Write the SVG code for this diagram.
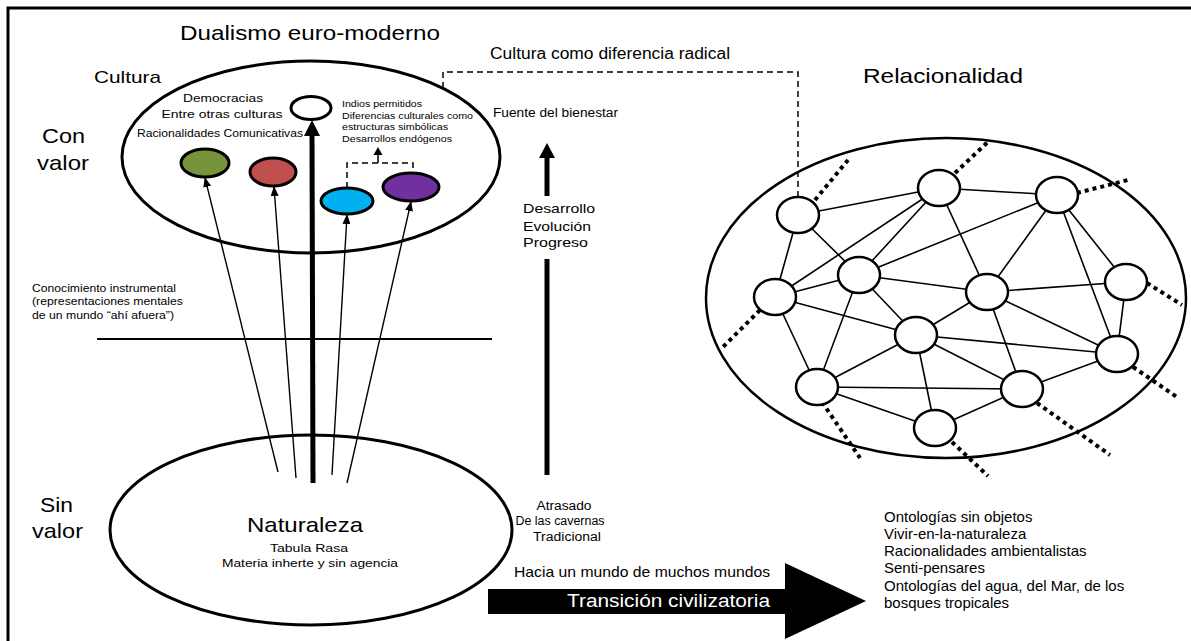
<svg xmlns="http://www.w3.org/2000/svg" width="1191" height="641" viewBox="0 0 1191 641">
<style>
text{font-family:"Liberation Sans",Arial,sans-serif;fill:#000}
.el{fill:none;stroke:#000;stroke-width:3}
.nd{fill:#fff;stroke:#000;stroke-width:2.5}
.ed{stroke:#000;stroke-width:1.6;fill:none}
.dot{stroke:#000;stroke-width:4;stroke-dasharray:4 4;fill:none}
.thin{stroke:#000;stroke-width:1.4;fill:none}
.dash{stroke:#000;stroke-width:1.5;stroke-dasharray:6 4;fill:none}
.c{text-anchor:middle}
</style>
<defs>
<marker id="ah" markerWidth="10" markerHeight="8" refX="9" refY="4" orient="auto" markerUnits="userSpaceOnUse"><path d="M0,0 L10,4 L0,8 z" fill="#000"/></marker>
</defs>
<rect x="8" y="8" width="1190" height="640" fill="none" stroke="#000" stroke-width="3"/>

<g id="titles">
<text x="180" y="40" font-size="21" textLength="260" lengthAdjust="spacingAndGlyphs">Dualismo euro-moderno</text>
<text x="490" y="59" font-size="16" textLength="240" lengthAdjust="spacingAndGlyphs">Cultura como diferencia radical</text>
<text x="863" y="83" font-size="21" textLength="160" lengthAdjust="spacingAndGlyphs">Relacionalidad</text>
<text x="94" y="83" font-size="17" textLength="67" lengthAdjust="spacingAndGlyphs">Cultura</text>
<text x="42" y="143" font-size="21" textLength="43" lengthAdjust="spacingAndGlyphs">Con</text>
<text x="37" y="170" font-size="21" textLength="52" lengthAdjust="spacingAndGlyphs">valor</text>
<text x="40" y="512" font-size="21" textLength="33" lengthAdjust="spacingAndGlyphs">Sin</text>
<text x="32" y="538" font-size="21" textLength="51" lengthAdjust="spacingAndGlyphs">valor</text>
<text x="32" y="292" font-size="11" textLength="144" lengthAdjust="spacingAndGlyphs">Conocimiento instrumental</text>
<text x="32" y="305" font-size="11" textLength="151" lengthAdjust="spacingAndGlyphs">(representaciones mentales</text>
<text x="32" y="319" font-size="11" textLength="142" lengthAdjust="spacingAndGlyphs">de un mundo “ahí afuera”)</text>
</g>

<g id="cultura">
<ellipse class="el" cx="311" cy="157" rx="189" ry="96"/>
<text x="223" y="102" font-size="11.5" class="c" textLength="80" lengthAdjust="spacingAndGlyphs">Democracias</text>
<text x="222" y="118" font-size="11.5" class="c" textLength="121" lengthAdjust="spacingAndGlyphs">Entre otras culturas</text>
<text x="137" y="137" font-size="11.5" textLength="166" lengthAdjust="spacingAndGlyphs">Racionalidades Comunicativas</text>
<text x="342" y="107" font-size="9.5" textLength="80" lengthAdjust="spacingAndGlyphs">Indios permitidos</text>
<text x="342" y="118.5" font-size="9.5" textLength="131" lengthAdjust="spacingAndGlyphs">Diferencias culturales como</text>
<text x="342" y="130" font-size="9.5" textLength="106" lengthAdjust="spacingAndGlyphs">estructuras simbólicas</text>
<text x="342" y="142" font-size="9.5" textLength="110" lengthAdjust="spacingAndGlyphs">Desarrollos endógenos</text>
</g>
<g id="n-white"><ellipse cx="311" cy="108" rx="20" ry="11.5" fill="#fff" stroke="#000" stroke-width="3"/></g>
<g id="n-green"><ellipse cx="205" cy="163" rx="24" ry="14" fill="#77933C" stroke="#000" stroke-width="3"/></g>
<g id="n-red"><ellipse cx="273" cy="172" rx="23" ry="14" fill="#C0504D" stroke="#000" stroke-width="3"/></g>
<g id="n-cyan"><ellipse cx="347" cy="201" rx="26" ry="13" fill="#00B0F0" stroke="#000" stroke-width="3"/></g>
<g id="n-purple"><ellipse cx="411" cy="187" rx="28" ry="14" fill="#7030A0" stroke="#000" stroke-width="3"/></g>

<g id="naturaleza">
<ellipse class="el" cx="311" cy="530" rx="201" ry="95"/>
<text x="305" y="532" font-size="21" class="c" textLength="116" lengthAdjust="spacingAndGlyphs">Naturaleza</text>
<text x="309" y="552" font-size="11.5" class="c" textLength="78" lengthAdjust="spacingAndGlyphs">Tabula Rasa</text>
<text x="310" y="567" font-size="11.5" class="c" textLength="176" lengthAdjust="spacingAndGlyphs">Materia inherte y sin agencia</text>
</g>

<g id="progreso">
<text x="493" y="117" font-size="12" textLength="125" lengthAdjust="spacingAndGlyphs">Fuente del bienestar</text>
<text x="523" y="213" font-size="13" textLength="72" lengthAdjust="spacingAndGlyphs">Desarrollo</text>
<text x="523" y="231" font-size="13" textLength="68" lengthAdjust="spacingAndGlyphs">Evolución</text>
<text x="523" y="247" font-size="13" textLength="65" lengthAdjust="spacingAndGlyphs">Progreso</text>
<text x="564" y="510" font-size="12.5" class="c" textLength="55" lengthAdjust="spacingAndGlyphs">Atrasado</text>
<text x="560" y="525" font-size="12.5" class="c" textLength="89" lengthAdjust="spacingAndGlyphs">De las cavernas</text>
<text x="567" y="541" font-size="12.5" class="c" textLength="68" lengthAdjust="spacingAndGlyphs">Tradicional</text>
</g>

<g id="transicion">
<polygon points="488,589 785,589 785,563 866,601 785,639 785,614 488,614" fill="#000"/>
<text x="514" y="577" font-size="15" textLength="256" lengthAdjust="spacingAndGlyphs">Hacia un mundo de muchos mundos</text>
<text x="567" y="607" font-size="18" textLength="203" lengthAdjust="spacingAndGlyphs" style="fill:#fff">Transición civilizatoria</text>
</g>

<g id="lista" font-size="15">
<text x="884" y="522">Ontologías sin objetos</text>
<text x="884" y="539">Vivir-en-la-naturaleza</text>
<text x="884" y="556">Racionalidades ambientalistas</text>
<text x="884" y="573">Senti-pensares</text>
<text x="884" y="591">Ontologías del agua, del Mar, de los</text>
<text x="884" y="608">bosques tropicales</text>
</g>

<g id="connectors">
<line x1="97" y1="339" x2="492" y2="339" stroke="#000" stroke-width="2"/>
<line class="thin" x1="278" y1="472" x2="205" y2="178" marker-end="url(#ah)"/>
<line class="thin" x1="296" y1="478" x2="274" y2="187" marker-end="url(#ah)"/>
<line class="thin" x1="332" y1="475" x2="347" y2="215" marker-end="url(#ah)"/>
<line class="thin" x1="347" y1="483" x2="411" y2="202" marker-end="url(#ah)"/>
<line x1="313" y1="483" x2="312" y2="134" stroke="#000" stroke-width="5"/>
<polygon points="304,136 312,120 320,136" fill="#000"/>
<path class="dash" d="M347,188 V163 H413 V173"/>
<line x1="378" y1="163" x2="378" y2="153" stroke="#000" stroke-width="1.5"/>
<polygon points="373.5,155 378,147 382.5,155" fill="#000"/>
<line x1="547" y1="196" x2="547" y2="156" stroke="#000" stroke-width="5"/>
<polygon points="539,158 547,143 555,158" fill="#000"/>
<line x1="547" y1="259" x2="547" y2="475" stroke="#000" stroke-width="5"/>
<path class="dash" d="M443,88 V72 H798 V197"/>
</g>

<g id="red">
<ellipse cx="946" cy="298" rx="240" ry="160" fill="none" stroke="#000" stroke-width="2.5"/>
<g id="edges">
<line class="ed" x1="798" y1="215" x2="939" y2="188"/>
<line class="ed" x1="939" y1="188" x2="1057" y2="195"/>
<line class="ed" x1="798" y1="215" x2="775" y2="297"/>
<line class="ed" x1="798" y1="215" x2="859" y2="275"/>
<line class="ed" x1="859" y1="275" x2="916" y2="335"/>
<line class="ed" x1="939" y1="188" x2="775" y2="297"/>
<line class="ed" x1="939" y1="188" x2="859" y2="275"/>
<line class="ed" x1="939" y1="188" x2="987" y2="292"/>
<line class="ed" x1="1057" y1="195" x2="859" y2="275"/>
<line class="ed" x1="1057" y1="195" x2="987" y2="292"/>
<line class="ed" x1="1057" y1="195" x2="1126" y2="282"/>
<line class="ed" x1="1057" y1="195" x2="1117" y2="354"/>
<line class="ed" x1="775" y1="297" x2="859" y2="275"/>
<line class="ed" x1="859" y1="275" x2="987" y2="292"/>
<line class="ed" x1="775" y1="297" x2="916" y2="335"/>
<line class="ed" x1="775" y1="297" x2="817" y2="387"/>
<line class="ed" x1="859" y1="275" x2="817" y2="387"/>
<line class="ed" x1="987" y1="292" x2="916" y2="335"/>
<line class="ed" x1="987" y1="292" x2="1126" y2="282"/>
<line class="ed" x1="987" y1="292" x2="1117" y2="354"/>
<line class="ed" x1="987" y1="292" x2="1022" y2="389"/>
<line class="ed" x1="1126" y1="282" x2="1117" y2="354"/>
<line class="ed" x1="916" y1="335" x2="1117" y2="354"/>
<line class="ed" x1="916" y1="335" x2="817" y2="387"/>
<line class="ed" x1="916" y1="335" x2="1022" y2="389"/>
<line class="ed" x1="916" y1="335" x2="935" y2="428"/>
<line class="ed" x1="817" y1="387" x2="1022" y2="389"/>
<line class="ed" x1="817" y1="387" x2="935" y2="428"/>
<line class="ed" x1="1022" y1="389" x2="935" y2="428"/>
<line class="ed" x1="1022" y1="389" x2="1117" y2="354"/>
</g>
<g id="dotted">
<line class="dot" x1="815" y1="200" x2="848" y2="160"/>
<line class="dot" x1="955" y1="173" x2="990" y2="140"/>
<line class="dot" x1="1077" y1="193" x2="1128" y2="180"/>
<line class="dot" x1="1147" y1="283" x2="1182" y2="305"/>
<line class="dot" x1="1133" y1="367" x2="1177" y2="397"/>
<line class="dot" x1="1037" y1="403" x2="1110" y2="455"/>
<line class="dot" x1="952" y1="442" x2="988" y2="476"/>
<line class="dot" x1="822" y1="402" x2="860" y2="458"/>
<line class="dot" x1="760" y1="310" x2="723" y2="347"/>
</g>
<g id="n1"><ellipse class="nd" cx="798" cy="215" rx="21" ry="18"/></g>
<g id="n2"><ellipse class="nd" cx="939" cy="188" rx="21" ry="18"/></g>
<g id="n3"><ellipse class="nd" cx="1057" cy="195" rx="21" ry="18"/></g>
<g id="n4"><ellipse class="nd" cx="859" cy="275" rx="21" ry="18"/></g>
<g id="n5"><ellipse class="nd" cx="775" cy="297" rx="21" ry="18"/></g>
<g id="n6"><ellipse class="nd" cx="987" cy="292" rx="21" ry="18"/></g>
<g id="n7"><ellipse class="nd" cx="1126" cy="282" rx="21" ry="18"/></g>
<g id="n8"><ellipse class="nd" cx="916" cy="335" rx="21" ry="18"/></g>
<g id="n9"><ellipse class="nd" cx="1117" cy="354" rx="21" ry="18"/></g>
<g id="n10"><ellipse class="nd" cx="817" cy="387" rx="21" ry="18"/></g>
<g id="n11"><ellipse class="nd" cx="1022" cy="389" rx="21" ry="18"/></g>
<g id="n12"><ellipse class="nd" cx="935" cy="428" rx="21" ry="18"/></g>
</g>
</svg>
